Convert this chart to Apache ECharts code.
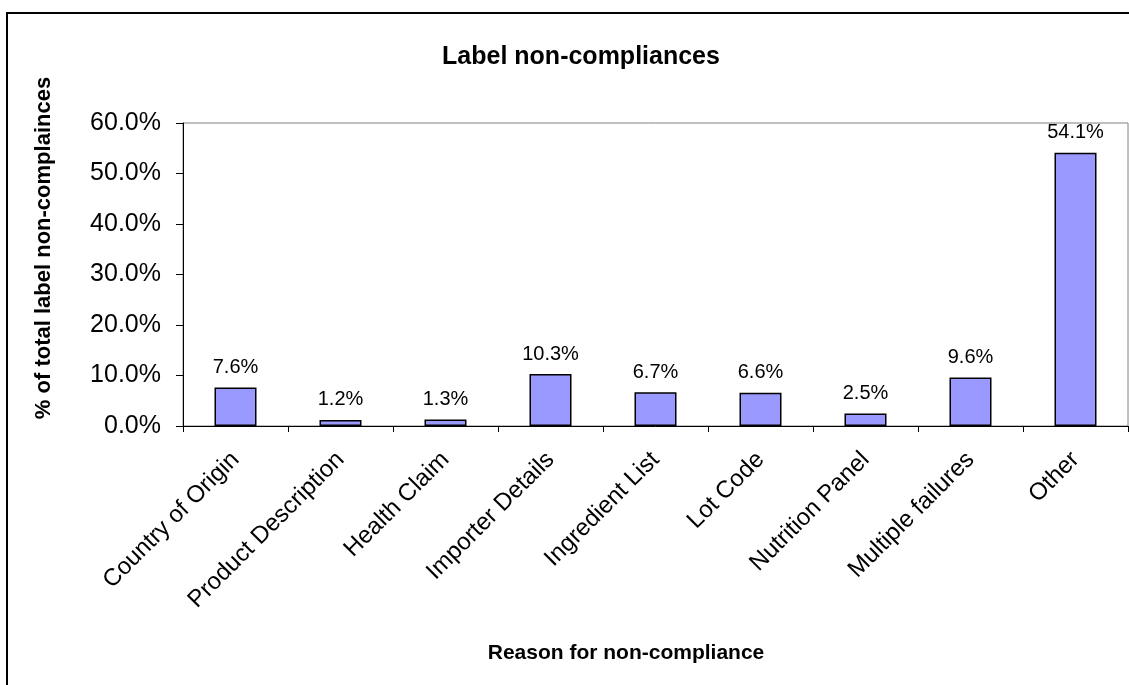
<!DOCTYPE html>
<html>
<head>
<meta charset="utf-8">
<script src="https://cdn.jsdelivr.net/npm/echarts@6/dist/echarts.min.js"></script>
<style>
html,body{margin:0;padding:0;background:#fff;}
#chart{width:1129px;height:685px;}
</style>
</head>
<body>
<div id="chart"></div>
<script>
const categories = ["Country of Origin","Product Description","Health Claim","Importer Details","Ingredient List","Lot Code","Nutrition Panel","Multiple failures","Other"];
const values = [7.6, 1.2, 1.3, 10.3, 6.7, 6.6, 2.5, 9.6, 54.1];
const yTicks = [0, 10, 20, 30, 40, 50, 60];
const titleText = "Label non-compliances";
const xName = "Reason for non-compliance";
const yName = "% of total label non-complainces";

const FONT = "Liberation Sans, Arial, sans-serif";
const chart = echarts.init(document.getElementById('chart'), null, {renderer:'canvas'});
chart.setOption({
  animation:false,
  backgroundColor:'#fff',
  title:{
    text:titleText, left:576, top:40, textAlign:'center',
    textStyle:{fontFamily:FONT, fontSize:25, fontWeight:'bold', color:'#000'}
  },
  graphic:[
    {type:'rect', shape:{x:7, y:13, width:1200, height:800},
     style:{fill:'none', stroke:'#000', lineWidth:2}, silent:true, z:100},
    {type:'text', x:626, y:653,
     style:{text:xName, font:'bold 21px ' + FONT, fill:'#000', textAlign:'center', textVerticalAlign:'middle'}},
    {type:'text', x:44, y:248, rotation:Math.PI/2,
     style:{text:yName, font:'bold 22px ' + FONT, fill:'#000', textAlign:'center', textVerticalAlign:'middle'}}
  ],
  grid:{left:183, right:1, top:123, bottom:259, show:true, borderColor:'#808080', borderWidth:1},
  xAxis:{
    type:'category', data:categories,
    axisLine:{lineStyle:{color:'#000', width:1}},
    axisTick:{show:true, length:6, alignWithLabel:false, lineStyle:{color:'#000'}},
    axisLabel:{rotate:45, interval:0, margin:30, fontFamily:FONT, fontSize:24, color:'#000'},
    splitLine:{show:false}
  },
  yAxis:{
    type:'value', min:yTicks[0], max:yTicks[yTicks.length-1], interval:10,
    axisLine:{show:true, lineStyle:{color:'#000', width:1}},
    axisTick:{show:true, length:7, lineStyle:{color:'#000'}},
    axisLabel:{margin:22, fontFamily:FONT, fontSize:25, color:'#000', formatter:v => v.toFixed(1) + '%'},
    splitLine:{show:false}
  },
  series:[{
    type:'bar', data:values, barWidth:'40%',
    itemStyle:{color:'#9999FF', borderColor:'#000', borderWidth:1.5},
    label:{show:true, position:'top', distance:10, fontFamily:FONT, fontSize:20, color:'#000', formatter:p => p.value.toFixed(1) + '%'}
  }]
});
</script>
</body>
</html>
